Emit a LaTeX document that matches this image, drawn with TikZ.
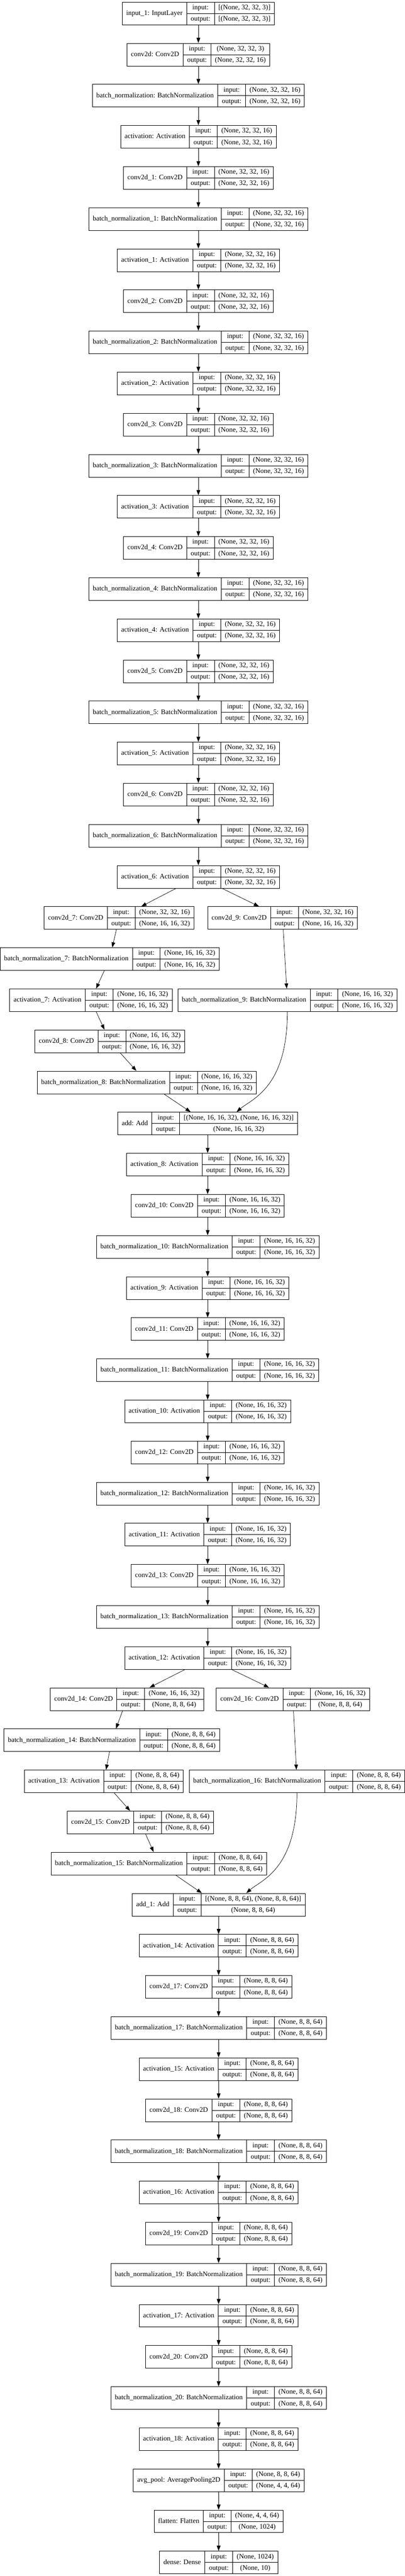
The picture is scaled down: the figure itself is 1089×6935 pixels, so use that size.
\documentclass[tikz,border=0pt]{standalone}
\usepackage{fontspec}
\setmainfont{Liberation Serif}
\usetikzlibrary{arrows.meta,calc}

\setlength{\arrayrulewidth}{0.75pt}
\newcommand{\rowstrut}{\rule[-7.6pt]{0pt}{22.5pt}}
% record box: label | input:/output: | shapes
\newcommand{\rec}[3]{%
  \begin{tabular}{@{\hspace{8pt}}c@{\hspace{8pt}}|@{}c@{}}
    #1 &
    \begin{tabular}{@{\hspace{8pt}}c@{\hspace{8pt}}|@{\hspace{8pt}}c@{\hspace{8pt}}}
      \rowstrut input: & #2\\ \hline
      \rowstrut output: & #3
    \end{tabular}
  \end{tabular}}
\newcommand{\shpA}{(None, 32, 32, 16)}
\newcommand{\shpB}{(None, 16, 16, 32)}
\newcommand{\shpC}{(None, 8, 8, 64)}

\begin{document}
\begin{tikzpicture}[x=0.75pt, y=-0.75pt, >={Triangle[length=10.5pt,width=7.5pt]},
    layer/.style={draw, line width=0.75pt, inner sep=0pt, font=\fontsize{14pt}{17pt}\selectfont},
    edge/.style={->, line width=0.75pt}]
  \useasboundingbox (0, 0) rectangle (1089, 6935);

  % first stage
  \node[layer] (input) at (534, 36.2) {\rec{input\_1: InputLayer}{[(None, 32, 32, 3)]}{[(None, 32, 32, 3)]}};
  \node[layer] (conv0) at (534, 146.9) {\rec{conv2d: Conv2D}{(None, 32, 32, 3)}{\shpA}};
  \node[layer] (bn0) at (534, 257.6) {\rec{batch\_normalization: BatchNormalization}{\shpA}{\shpA}};
  \node[layer] (act0) at (534, 368.2) {\rec{activation: Activation}{\shpA}{\shpA}};
  \node[layer] (conv1) at (534, 478.9) {\rec{conv2d\_1: Conv2D}{\shpA}{\shpA}};
  \node[layer] (bn1) at (534, 589.6) {\rec{batch\_normalization\_1: BatchNormalization}{\shpA}{\shpA}};
  \node[layer] (act1) at (534, 700.3) {\rec{activation\_1: Activation}{\shpA}{\shpA}};
  \node[layer] (conv2) at (534, 811.0) {\rec{conv2d\_2: Conv2D}{\shpA}{\shpA}};
  \node[layer] (bn2) at (534, 921.6) {\rec{batch\_normalization\_2: BatchNormalization}{\shpA}{\shpA}};
  \node[layer] (act2) at (534, 1032.3) {\rec{activation\_2: Activation}{\shpA}{\shpA}};
  \node[layer] (conv3) at (534, 1143.0) {\rec{conv2d\_3: Conv2D}{\shpA}{\shpA}};
  \node[layer] (bn3) at (534, 1253.7) {\rec{batch\_normalization\_3: BatchNormalization}{\shpA}{\shpA}};
  \node[layer] (act3) at (534, 1364.4) {\rec{activation\_3: Activation}{\shpA}{\shpA}};
  \node[layer] (conv4) at (534, 1475.0) {\rec{conv2d\_4: Conv2D}{\shpA}{\shpA}};
  \node[layer] (bn4) at (534, 1585.7) {\rec{batch\_normalization\_4: BatchNormalization}{\shpA}{\shpA}};
  \node[layer] (act4) at (534, 1696.4) {\rec{activation\_4: Activation}{\shpA}{\shpA}};
  \node[layer] (conv5) at (534, 1807.1) {\rec{conv2d\_5: Conv2D}{\shpA}{\shpA}};
  \node[layer] (bn5) at (534, 1917.8) {\rec{batch\_normalization\_5: BatchNormalization}{\shpA}{\shpA}};
  \node[layer] (act5) at (534, 2028.4) {\rec{activation\_5: Activation}{\shpA}{\shpA}};
  \node[layer] (conv6) at (534, 2139.1) {\rec{conv2d\_6: Conv2D}{\shpA}{\shpA}};
  \node[layer] (bn6) at (534, 2249.8) {\rec{batch\_normalization\_6: BatchNormalization}{\shpA}{\shpA}};
  \node[layer] (act6) at (534, 2360.5) {\rec{activation\_6: Activation}{\shpA}{\shpA}};

  % first shortcut block
  \node[layer] (conv7) at (320.5, 2471.2) {\rec{conv2d\_7: Conv2D}{\shpA}{\shpB}};
  \node[layer] (conv9) at (760.5, 2471.2) {\rec{conv2d\_9: Conv2D}{\shpA}{\shpB}};
  \node[layer] (bn7) at (295, 2581.8) {\rec{batch\_normalization\_7: BatchNormalization}{\shpB}{\shpB}};
  \node[layer] (act7) at (244.5, 2692.5) {\rec{activation\_7: Activation}{\shpB}{\shpB}};
  \node[layer] (bn9) at (773.5, 2692.5) {\rec{batch\_normalization\_9: BatchNormalization}{\shpB}{\shpB}};
  \node[layer] (conv8) at (295.5, 2803.2) {\rec{conv2d\_8: Conv2D}{\shpB}{\shpB}};
  \node[layer] (bn8) at (395, 2913.9) {\rec{batch\_normalization\_8: BatchNormalization}{\shpB}{\shpB}};
  \node[layer] (add0) at (559, 3024.6) {\rec{add: Add}{[\shpB, \shpB]}{\shpB}};

  % second stage
  \node[layer] (act8) at (559, 3135.2) {\rec{activation\_8: Activation}{\shpB}{\shpB}};
  \node[layer] (conv10) at (559, 3245.9) {\rec{conv2d\_10: Conv2D}{\shpB}{\shpB}};
  \node[layer] (bn10) at (559, 3356.6) {\rec{batch\_normalization\_10: BatchNormalization}{\shpB}{\shpB}};
  \node[layer] (act9) at (559, 3467.3) {\rec{activation\_9: Activation}{\shpB}{\shpB}};
  \node[layer] (conv11) at (559, 3578.0) {\rec{conv2d\_11: Conv2D}{\shpB}{\shpB}};
  \node[layer] (bn11) at (559, 3688.6) {\rec{batch\_normalization\_11: BatchNormalization}{\shpB}{\shpB}};
  \node[layer] (act10) at (559, 3799.3) {\rec{activation\_10: Activation}{\shpB}{\shpB}};
  \node[layer] (conv12) at (559, 3910.0) {\rec{conv2d\_12: Conv2D}{\shpB}{\shpB}};
  \node[layer] (bn12) at (559, 4020.7) {\rec{batch\_normalization\_12: BatchNormalization}{\shpB}{\shpB}};
  \node[layer] (act11) at (559, 4131.4) {\rec{activation\_11: Activation}{\shpB}{\shpB}};
  \node[layer] (conv13) at (559, 4242.0) {\rec{conv2d\_13: Conv2D}{\shpB}{\shpB}};
  \node[layer] (bn13) at (559, 4352.7) {\rec{batch\_normalization\_13: BatchNormalization}{\shpB}{\shpB}};
  \node[layer] (act12) at (559, 4463.4) {\rec{activation\_12: Activation}{\shpB}{\shpB}};

  % second shortcut block
  \node[layer] (conv14) at (341.7, 4574.1) {\rec{conv2d\_14: Conv2D}{\shpB}{\shpC}};
  \node[layer] (conv16) at (788.5, 4574.1) {\rec{conv2d\_16: Conv2D}{\shpB}{\shpC}};
  \node[layer] (bn14) at (300.7, 4684.8) {\rec{batch\_normalization\_14: BatchNormalization}{\shpC}{\shpC}};
  \node[layer] (act13) at (279.5, 4795.4) {\rec{activation\_13: Activation}{\shpC}{\shpC}};
  \node[layer] (bn16) at (799.3, 4795.4) {\rec{batch\_normalization\_16: BatchNormalization}{\shpC}{\shpC}};
  \node[layer] (conv15) at (377.8, 4906.1) {\rec{conv2d\_15: Conv2D}{\shpC}{\shpC}};
  \node[layer] (bn15) at (427.4, 5016.8) {\rec{batch\_normalization\_15: BatchNormalization}{\shpC}{\shpC}};
  \node[layer] (add1) at (588.5, 5127.5) {\rec{add\_1: Add}{[\shpC, \shpC]}{\shpC}};

  % third stage
  \node[layer] (act14) at (588.5, 5238.2) {\rec{activation\_14: Activation}{\shpC}{\shpC}};
  \node[layer] (conv17) at (588.5, 5348.8) {\rec{conv2d\_17: Conv2D}{\shpC}{\shpC}};
  \node[layer] (bn17) at (588.5, 5459.5) {\rec{batch\_normalization\_17: BatchNormalization}{\shpC}{\shpC}};
  \node[layer] (act15) at (588.5, 5570.2) {\rec{activation\_15: Activation}{\shpC}{\shpC}};
  \node[layer] (conv18) at (588.5, 5680.9) {\rec{conv2d\_18: Conv2D}{\shpC}{\shpC}};
  \node[layer] (bn18) at (588.5, 5791.6) {\rec{batch\_normalization\_18: BatchNormalization}{\shpC}{\shpC}};
  \node[layer] (act16) at (588.5, 5902.2) {\rec{activation\_16: Activation}{\shpC}{\shpC}};
  \node[layer] (conv19) at (588.5, 6012.9) {\rec{conv2d\_19: Conv2D}{\shpC}{\shpC}};
  \node[layer] (bn19) at (588.5, 6123.6) {\rec{batch\_normalization\_19: BatchNormalization}{\shpC}{\shpC}};
  \node[layer] (act17) at (588.5, 6234.3) {\rec{activation\_17: Activation}{\shpC}{\shpC}};
  \node[layer] (conv20) at (588.5, 6345.0) {\rec{conv2d\_20: Conv2D}{\shpC}{\shpC}};
  \node[layer] (bn20) at (588.5, 6455.6) {\rec{batch\_normalization\_20: BatchNormalization}{\shpC}{\shpC}};
  \node[layer] (act18) at (588.5, 6566.3) {\rec{activation\_18: Activation}{\shpC}{\shpC}};
  \node[layer] (pool) at (588.5, 6677.0) {\rec{avg\_pool: AveragePooling2D}{\shpC}{(None, 4, 4, 64)}};
  \node[layer] (flat) at (588.5, 6787.7) {\rec{flatten: Flatten}{(None, 4, 4, 64)}{(None, 1024)}};
  \node[layer] (dense) at (588.5, 6898.4) {\rec{dense: Dense}{(None, 1024)}{(None, 10)}};

  % connectors
  \draw[edge] (input) -- (conv0);
  \draw[edge] (conv0) -- (bn0);
  \draw[edge] (bn0) -- (act0);
  \draw[edge] (act0) -- (conv1);
  \draw[edge] (conv1) -- (bn1);
  \draw[edge] (bn1) -- (act1);
  \draw[edge] (act1) -- (conv2);
  \draw[edge] (conv2) -- (bn2);
  \draw[edge] (bn2) -- (act2);
  \draw[edge] (act2) -- (conv3);
  \draw[edge] (conv3) -- (bn3);
  \draw[edge] (bn3) -- (act3);
  \draw[edge] (act3) -- (conv4);
  \draw[edge] (conv4) -- (bn4);
  \draw[edge] (bn4) -- (act4);
  \draw[edge] (act4) -- (conv5);
  \draw[edge] (conv5) -- (bn5);
  \draw[edge] (bn5) -- (act5);
  \draw[edge] (act5) -- (conv6);
  \draw[edge] (conv6) -- (bn6);
  \draw[edge] (bn6) -- (act6);

  \draw[edge] (act6) -- (conv7);
  \draw[edge] (act6) -- (conv9);
  \draw[edge] (conv7) -- (bn7);
  \draw[edge] (conv9) -- (bn9);
  \draw[edge] (bn7) -- (act7);
  \draw[edge] (act7) -- (conv8);
  \draw[edge] (conv8) -- (bn8);
  \draw[edge] (bn8) -- (add0);
  \draw[edge] (bn9.south) .. controls +(0, 206) and +(40, -35) .. ($(add0.north)+(78, 0)$);

  \draw[edge] (add0) -- (act8);
  \draw[edge] (act8) -- (conv10);
  \draw[edge] (conv10) -- (bn10);
  \draw[edge] (bn10) -- (act9);
  \draw[edge] (act9) -- (conv11);
  \draw[edge] (conv11) -- (bn11);
  \draw[edge] (bn11) -- (act10);
  \draw[edge] (act10) -- (conv12);
  \draw[edge] (conv12) -- (bn12);
  \draw[edge] (bn12) -- (act11);
  \draw[edge] (act11) -- (conv13);
  \draw[edge] (conv13) -- (bn13);
  \draw[edge] (bn13) -- (act12);

  \draw[edge] (act12) -- (conv14);
  \draw[edge] (act12) -- (conv16);
  \draw[edge] (conv14) -- (bn14);
  \draw[edge] (conv16) -- (bn16);
  \draw[edge] (bn14) -- (act13);
  \draw[edge] (act13) -- (conv15);
  \draw[edge] (conv15) -- (bn15);
  \draw[edge] (bn15) -- (add1);
  \draw[edge] (bn16.south) .. controls +(0, 206) and +(40, -35) .. ($(add1.north)+(74.5, 0)$);

  \draw[edge] (add1) -- (act14);
  \draw[edge] (act14) -- (conv17);
  \draw[edge] (conv17) -- (bn17);
  \draw[edge] (bn17) -- (act15);
  \draw[edge] (act15) -- (conv18);
  \draw[edge] (conv18) -- (bn18);
  \draw[edge] (bn18) -- (act16);
  \draw[edge] (act16) -- (conv19);
  \draw[edge] (conv19) -- (bn19);
  \draw[edge] (bn19) -- (act17);
  \draw[edge] (act17) -- (conv20);
  \draw[edge] (conv20) -- (bn20);
  \draw[edge] (bn20) -- (act18);
  \draw[edge] (act18) -- (pool);
  \draw[edge] (pool) -- (flat);
  \draw[edge] (flat) -- (dense);
\end{tikzpicture}
\end{document}
